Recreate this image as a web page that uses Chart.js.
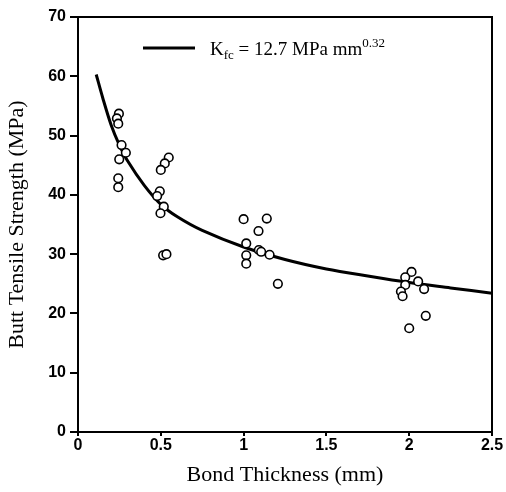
<!DOCTYPE html>
<html>
<head>
<meta charset="utf-8">
<script src="https://cdn.jsdelivr.net/npm/chart.js@4/dist/chart.umd.min.js"></script>
<style>
  html, body { margin: 0; padding: 0; background: #fff; }
  #wrap { width: 506px; height: 492px; }
</style>
</head>
<body>
<div id="wrap"><canvas id="chart" width="506" height="492"></canvas></div>
<script>
// fitted curve
const curveX = [0.11, 0.15, 0.2, 0.25, 0.3, 0.4, 0.5, 0.6, 0.75, 1.0, 1.25, 1.5, 1.75, 2.0, 2.25, 2.5];
const curveY = [60.3, 56.3, 51.8, 48.4, 45.7, 41.6, 38.4, 36.3, 34.0, 31.2, 29.1, 27.5, 26.3, 25.2, 24.3, 23.4];

// measured points
const pointX = [0.247, 0.235, 0.243, 0.263, 0.289, 0.249, 0.243, 0.243,
                0.548, 0.524, 0.500, 0.494, 0.478, 0.518, 0.498, 0.514, 0.534,
                1.000, 1.140, 1.090, 1.016, 1.016, 1.016, 1.092, 1.106, 1.157, 1.207,
                2.014, 1.976, 1.976, 1.950, 1.960, 2.054, 2.090, 2.100, 2.000];
const pointY = [53.7, 52.9, 52.0, 48.4, 47.1, 46.0, 42.8, 41.3,
                46.3, 45.3, 44.2, 40.6, 39.8, 38.0, 36.9, 29.8, 30.0,
                35.9, 36.0, 33.9, 31.8, 29.8, 28.4, 30.7, 30.4, 29.9, 25.0,
                27.0, 26.1, 24.8, 23.7, 22.9, 25.4, 24.1, 19.6, 17.5];

const xTickLabels = ["0", "0.5", "1", "1.5", "2", "2.5"];

const xTitle = "Bond Thickness (mm)";
const yTitle = "Butt Tensile Strength (MPa)";

const serif = "'Liberation Serif', 'Times New Roman', serif";
const sans = "'Liberation Sans', Arial, sans-serif";

// frame around the plot plus the legend with sub/superscript
const framePlugin = {
  id: "frame",
  afterDraw(chart) {
    const { ctx, chartArea: a } = chart;
    ctx.save();
    ctx.strokeStyle = "#000";
    ctx.lineWidth = 2;
    ctx.strokeRect(a.left, a.top, a.right - a.left, a.bottom - a.top);

    const ly = a.top + 31;
    ctx.lineWidth = 3;
    ctx.beginPath();
    ctx.moveTo(a.left + 65, ly);
    ctx.lineTo(a.left + 117, ly);
    ctx.stroke();

    ctx.fillStyle = "#000";
    ctx.textBaseline = "alphabetic";
    let x = a.left + 132;
    const base = a.top + 38;
    ctx.font = "19px " + serif;
    ctx.fillText("K", x, base);
    x += ctx.measureText("K").width;
    ctx.font = "13px " + serif;
    ctx.fillText("fc", x, base + 4);
    x += ctx.measureText("fc").width;
    ctx.font = "19px " + serif;
    const mid = " = 12.7 MPa mm";
    ctx.fillText(mid, x, base);
    x += ctx.measureText(mid).width;
    ctx.font = "13px " + serif;
    ctx.fillText("0.32", x, base - 8);
    ctx.restore();
  }
};

new Chart(document.getElementById("chart"), {
  type: "scatter",
  data: {
    datasets: [
      {
        type: "scatter",
        data: pointX.map((x, i) => ({ x: x, y: pointY[i] })),
        pointStyle: "circle",
        pointRadius: 4.3,
        pointBorderWidth: 1.6,
        borderColor: "#000",
        backgroundColor: "#fff",
        order: 0
      },
      {
        type: "line",
        data: curveX.map((x, i) => ({ x: x, y: curveY[i] })),
        borderColor: "#000",
        borderWidth: 3,
        pointRadius: 0,
        tension: 0.3,
        fill: false,
        order: 1
      }
    ]
  },
  options: {
    responsive: false,
    animation: false,
    layout: { padding: { top: 17, right: 14, left: 0, bottom: 0 } },
    plugins: {
      legend: { display: false },
      tooltip: { enabled: false }
    },
    scales: {
      x: {
        type: "linear",
        min: 0,
        max: 2.5,
        ticks: {
          stepSize: 0.5,
          color: "#000",
          font: { family: sans, size: 16, weight: "bold" },
          padding: 0,
          maxRotation: 0,
          callback: (v, i) => xTickLabels[i]
        },
        grid: { drawOnChartArea: false, drawTicks: true, tickLength: 4, color: "#000", lineWidth: 2 },
        border: { display: true, color: "#000", width: 2 },
        title: { display: true, text: xTitle, color: "#000", font: { family: serif, size: 22 }, padding: { top: 6 } },
        afterFit(scale) { scale.height = 60; }
      },
      y: {
        min: 0,
        max: 70,
        ticks: { stepSize: 10, color: "#000", font: { family: sans, size: 16, weight: "bold" }, padding: 4 },
        grid: { drawOnChartArea: false, drawTicks: true, tickLength: 8, color: "#000", lineWidth: 2 },
        border: { display: true, color: "#000", width: 2 },
        title: { display: true, text: yTitle, color: "#000", font: { family: serif, size: 22 }, padding: { bottom: 4 } },
        afterFit(scale) { scale.width = 78; }
      }
    }
  },
  plugins: [framePlugin]
});
</script>
</body>
</html>
